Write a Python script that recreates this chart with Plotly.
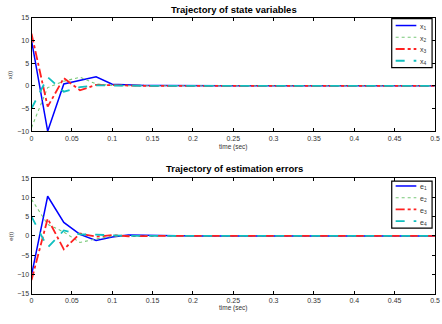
import plotly.graph_objects as go

W, H = 442, 324

t = [0, 0.02, 0.04, 0.06, 0.08, 0.10, 0.12, 0.14, 0.16, 0.18, 0.20, 0.22, 0.24,
     0.26, 0.28, 0.30, 0.32, 0.34, 0.36, 0.38, 0.40, 0.42, 0.44, 0.46, 0.48, 0.50]

x1 = [10.0, -10.0, 0.4, 1.2, 2.0, 0.35, 0.15, 0.05, 0.08, 0.02, 0, 0, 0, 0, 0, 0, 0, 0, 0, 0, 0, 0, 0, 0, 0, 0]
x2 = [-9.2, -0.4, 1.0, 1.9, 0.4, 0.1, 0.02, 0, 0, 0, 0, 0, 0, 0, 0, 0, 0, 0, 0, 0, 0, 0, 0, 0, 0, 0]
x3 = [11.5, -4.6, 1.7, -1.0, 0.2, 0.1, -0.05, 0, 0, 0, 0, 0, 0, 0, 0, 0, 0, 0, 0, 0, 0, 0, 0, 0, 0, 0]
x4 = [-5.0, 1.9, -1.3, -0.3, 0.1, 0.02, 0, 0, 0, 0, 0, 0, 0, 0, 0, 0, 0, 0, 0, 0, 0, 0, 0, 0, 0, 0]

e1 = [-10.2, 10.3, 3.5, 0.4, -1.2, -0.3, 0.2, 0.1, 0.02, 0, 0, 0, 0, 0, 0, 0, 0, 0, 0, 0, 0, 0, 0, 0, 0, 0]
e2 = [9.5, 3.0, 1.0, -1.7, -0.8, -0.1, 0.02, 0, 0, 0, 0, 0, 0, 0, 0, 0, 0, 0, 0, 0, 0, 0, 0, 0, 0, 0]
e3 = [-11.5, 4.5, -3.5, 0.6, -0.2, 0.2, -0.1, 0, 0, 0, 0, 0, 0, 0, 0, 0, 0, 0, 0, 0, 0, 0, 0, 0, 0, 0]
e4 = [5.0, -3.0, 1.4, 0.4, 0.3, 0.1, 0.02, 0, 0, 0, 0, 0, 0, 0, 0, 0, 0, 0, 0, 0, 0, 0, 0, 0, 0, 0]

top_names = ["x<sub>1</sub>", "x<sub>2</sub>", "x<sub>3</sub>", "x<sub>4</sub>"]
bot_names = ["e<sub>1</sub>", "e<sub>2</sub>", "e<sub>3</sub>", "e<sub>4</sub>"]
colors = ["#0000ff", "#77c877", "#ff2020", "#10bfbf"]
dashes = ["solid", "dot", "dashdot", "dash"]
widths = [1.5, 1.1, 1.8, 1.8]

xticks = [0, 0.05, 0.1, 0.15, 0.2, 0.25, 0.3, 0.35, 0.4, 0.45, 0.5]
xticklabels = ["0", "0.05", "0.1", "0.15", "0.2", "0.25", "0.3", "0.35", "0.4", "0.45", "0.5"]

FONT = "Liberation Sans, Arial, sans-serif"

def px_x(p):
    return p / W

def px_y(p):
    return 1 - p / H

fig = go.Figure()

for i, ys in enumerate([x1, x2, x3, x4]):
    fig.add_trace(go.Scatter(x=t, y=ys, mode="lines", xaxis="x", yaxis="y",
                             line=dict(color=colors[i], dash=dashes[i], width=widths[i]),
                             showlegend=False))
for i, ys in enumerate([e1, e2, e3, e4]):
    fig.add_trace(go.Scatter(x=t, y=ys, mode="lines", xaxis="x2", yaxis="y2",
                             line=dict(color=colors[i], dash=dashes[i], width=widths[i]),
                             showlegend=False))

axis_common = dict(showline=True, linecolor="black", linewidth=1, mirror="ticks",
                   ticks="inside", ticklen=3, tickcolor="black", showgrid=False,
                   zeroline=False, ticklabeloverflow="allow",
                   tickfont=dict(family=FONT, size=7, color="#333"))

x_dom = [px_x(30), px_x(440)]
fig.update_layout(
    width=W, height=H, margin=dict(l=0, r=0, t=0, b=0),
    paper_bgcolor="white", plot_bgcolor="white",
    xaxis=dict(domain=x_dom, range=[0, 0.5], tickvals=xticks, ticktext=xticklabels,
               anchor="y", **axis_common),
    yaxis=dict(domain=[px_y(130), px_y(14)], range=[-10, 15], tickvals=[-10, -5, 0, 5, 10, 15],
               anchor="x", **axis_common),
    xaxis2=dict(domain=x_dom, range=[0, 0.5], tickvals=xticks, ticktext=xticklabels,
                anchor="y2", **axis_common),
    yaxis2=dict(domain=[px_y(296), px_y(178)], range=[-15, 15], tickvals=[-15, -10, -5, 0, 5, 10, 15],
                anchor="x2", **axis_common),
)

ann = []
shapes = []
for title, ytitle, ylab, ymid, yx in [("Trajectory of state variables", 5.5, "x(t)", 72, 146),
                                      ("Trajectory of estimation errors", 168, "e(t)", 237, 311)]:
    ann.append(dict(text="<b>%s</b>" % title, x=px_x(236), y=px_y(ytitle), xref="paper", yref="paper",
                    xanchor="center", yanchor="middle",
                    showarrow=False, font=dict(family=FONT, size=9.5, color="black")))
    ann.append(dict(text=ylab, x=px_x(9), y=px_y(ymid), xref="paper", yref="paper", textangle=-90,
                    xanchor="center", yanchor="middle",
                    showarrow=False, font=dict(family=FONT, size=6, color="#333")))
    ann.append(dict(text="time (sec)", x=px_x(235), y=px_y(yx), xref="paper", yref="paper",
                    xanchor="center", yanchor="middle",
                    showarrow=False, font=dict(family=FONT, size=6.5, color="#333")))

for names, box, rows in [(top_names, (396, 15, 437, 65), [22, 34, 46, 58]),
                         (bot_names, (396, 181, 437, 229), [186, 198, 210, 222])]:
    x0, y0, x1b, y1b = box
    shapes.append(dict(type="rect", xref="paper", yref="paper", x0=px_x(x0), x1=px_x(x1b),
                       y0=px_y(y1b), y1=px_y(y0), line=dict(color="black", width=1.2),
                       fillcolor="white", layer="above"))
    for i, nm in enumerate(names):
        shapes.append(dict(type="line", xref="paper", yref="paper", x0=px_x(400), x1=px_x(421),
                           y0=px_y(rows[i]), y1=px_y(rows[i]), layer="above",
                           line=dict(color=colors[i], dash=dashes[i], width=widths[i])))
        ann.append(dict(text=nm, x=px_x(423), y=px_y(rows[i] + 1.5), xref="paper", yref="paper",
                        xanchor="left", yanchor="middle", showarrow=False,
                        font=dict(family=FONT, size=7, color="#333")))

fig.update_layout(annotations=ann, shapes=shapes)
fig.write_html("out.html")
